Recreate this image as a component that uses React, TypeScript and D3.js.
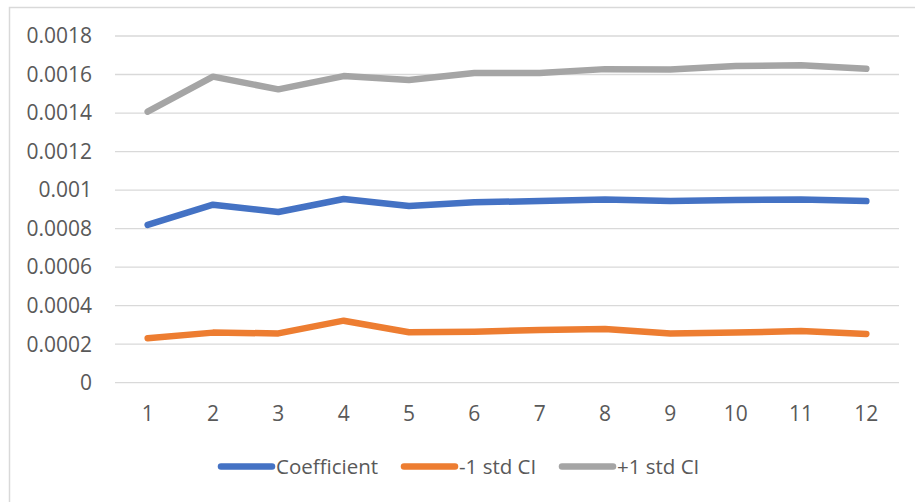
import React from "react";
import * as d3 from "d3";

const categories = ["1", "2", "3", "4", "5", "6", "7", "8", "9", "10", "11", "12"];
const coefficient = [0.000819, 0.000924, 0.000886, 0.000954, 0.000917, 0.000937, 0.000943, 0.000951, 0.000943, 0.000949, 0.000951, 0.000943];
const minusCI = [0.000231, 0.00026, 0.000256, 0.000322, 0.000262, 0.000265, 0.000274, 0.000279, 0.000256, 0.00026, 0.000268, 0.000253];
const plusCI = [0.001407, 0.001589, 0.001523, 0.001592, 0.001572, 0.001608, 0.001608, 0.001628, 0.001626, 0.001644, 0.001648, 0.00163];
const yTicks = [0, 0.0002, 0.0004, 0.0006, 0.0008, 0.001, 0.0012, 0.0014, 0.0016, 0.0018];
const yTickLabels = ["0", "0.0002", "0.0004", "0.0006", "0.0008", "0.001", "0.0012", "0.0014", "0.0016", "0.0018"];
const seriesNames = ["Coefficient", "-1 std CI", "+1 std CI"];
const seriesColors = ["#4472C4", "#ED7D31", "#A5A5A5"];

const W = 915;
const H = 502;
const FONT = "'Open Sans', 'Noto Sans', sans-serif";

export default function App() {
  const x = d3.scaleBand().domain(categories).range([115, 899]);
  const y = d3.scaleLinear().domain([0, 0.0018]).range([382.7, 36]);
  const cx = (c: string) => (x(c) as number) + x.bandwidth() / 2;
  const series = [coefficient, minusCI, plusCI];
  const line = d3
    .line<number>()
    .x((_, i) => cx(categories[i]))
    .y((d) => y(d));

  const legendX = [221, 404, 562];

  return (
    <svg
      width={W}
      height={H}
      style={{ position: "absolute", left: 0, top: 0, background: "#fff" }}
      fontFamily={FONT}
    >
      <rect x={0} y={0} width={W} height={H} fill="#fff" />
      <rect x={9.5} y={7.5} width={W} height={H} fill="none" stroke="#D9D9D9" strokeWidth={1.5} />
      {yTicks.map((t, i) => (
        <g key={i}>
          <line x1={115} x2={899} y1={y(t)} y2={y(t)} stroke="#D9D9D9" strokeWidth={1.3} />
          <text x={92} y={y(t)} dy="0.35em" textAnchor="end" fontSize={21} fill="#595959">
            {yTickLabels[i]}
          </text>
        </g>
      ))}
      {categories.map((c) => (
        <text key={c} x={cx(c)} y={421} textAnchor="middle" fontSize={21} fill="#595959">
          {c}
        </text>
      ))}
      {series.map((s, i) => (
        <path
          key={i}
          d={line(s) as string}
          fill="none"
          stroke={seriesColors[i]}
          strokeWidth={6.5}
          strokeLinecap="round"
          strokeLinejoin="round"
        />
      ))}
      {seriesNames.map((n, i) => (
        <g key={n}>
          <line
            x1={legendX[i]}
            x2={legendX[i] + 51}
            y1={466.5}
            y2={466.5}
            stroke={seriesColors[i]}
            strokeWidth={6.5}
            strokeLinecap="round"
          />
          <text x={legendX[i] + 55} y={466.5} dy="0.35em" fontSize={20.5} fill="#595959">
            {n}
          </text>
        </g>
      ))}
    </svg>
  );
}
